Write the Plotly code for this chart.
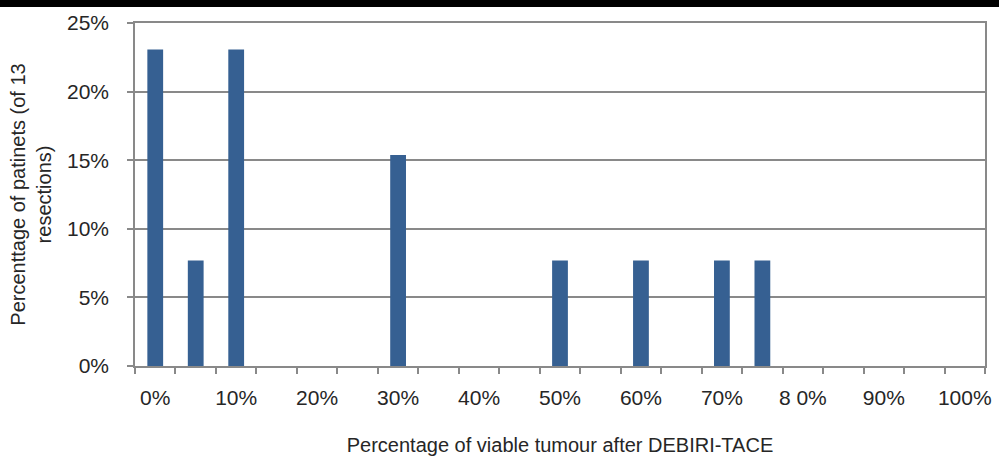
import plotly.graph_objects as go

categories = ["0%", "5%", "10%", "15%", "20%", "25%", "30%", "35%", "40%", "45%",
              "50%", "55%", "60%", "65%", "70%", "75%", "80%", "85%", "90%", "95%", "100%"]
values = [3/13, 1/13, 3/13, 0, 0, 0, 2/13, 0, 0, 0,
          1/13, 0, 1/13, 0, 1/13, 1/13, 0, 0, 0, 0, 0]
tick_labels = ["0%", "", "10%", "", "20%", "", "30%", "", "40%", "",
               "50%", "", "60%", "", "70%", "", "8 0%", "", "90%", "", "100%"]

W, H = 999, 456
ml, mr, mt, mb = 135, 14, 23, 90
ph = H - mt - mb

font = dict(family="Liberation Sans, Arial, sans-serif", size=20, color="#262626")
tickfont = dict(family="Liberation Sans, Arial, sans-serif", size=21, color="#262626")
grid = "#898989"

fig = go.Figure(go.Bar(x=categories, y=values, marker=dict(color="#366092", line=dict(width=0))))

fig.update_layout(
    width=W, height=H,
    margin=dict(l=ml, r=mr, t=mt, b=mb, autoexpand=False),
    paper_bgcolor="white", plot_bgcolor="white",
    font=font, bargap=0.61, showlegend=False,
    shapes=[dict(type="rect", xref="paper", yref="paper", x0=-ml / (W - ml - mr), x1=1 + mr / (W - ml - mr),
                 y0=1 + (mt - 7) / ph, y1=1 + (mt + 2) / ph, fillcolor="black", line=dict(width=0), layer="above")],
)
fig.update_xaxes(
    type="category", range=[-0.5, 20.5], tickvals=categories, ticktext=tick_labels,
    tickson="boundaries", ticks="outside", ticklen=6, tickwidth=1.5, tickcolor=grid,
    showline=True, linecolor=grid, linewidth=1.5, mirror=True, showgrid=False,
    ticklabelstandoff=12, tickangle=0, automargin=False, tickfont=tickfont,
    title=dict(text="Percentage of viable tumour after DEBIRI-TACE", standoff=31, font=font),
)
fig.update_yaxes(
    range=[0, 0.25], dtick=0.05, tickformat=".0%", showgrid=True, gridcolor=grid, gridwidth=1.5,
    ticks="outside", ticklen=6, tickwidth=1.5, tickcolor=grid,
    showline=True, linecolor=grid, linewidth=1.5, mirror=True, zeroline=False,
    ticklabelstandoff=14, automargin=False, tickfont=tickfont,
    title=dict(text="Percenttage of patinets (of 13<br>resections)", standoff=10, font=font),
)

fig.write_html("out.html", config={"displayModeBar": False},
               post_script="document.body.style.margin='0';document.body.style.padding='0';")
